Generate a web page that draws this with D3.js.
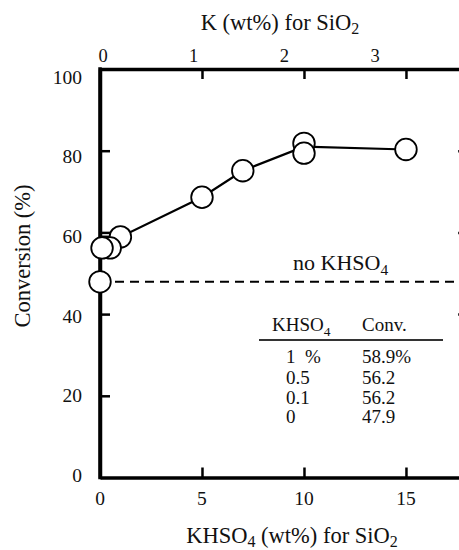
<!DOCTYPE html>
<html>
<head>
<meta charset="utf-8">
<script src="https://cdn.jsdelivr.net/npm/d3@7"></script>
<style>
  html, body { margin: 0; padding: 0; background: #fff; }
  svg { display: block; }
</style>
</head>
<body>
<div id="chart"></div>
<script>
// ---- data ----
const khso4 = [15, 10, 10, 7, 5, 1, 0.5, 0.1, 0];            // KHSO4 wt% (draw order)
const conversion = [80.3, 81.8, 79.4, 75.1, 68.6, 58.9, 56.2, 56.2, 47.9];
const lineX = [0, 1, 5, 7, 10, 15];                           // drawn trend line
const lineY = [59.0, 58.9, 68.6, 75.1, 81.0, 80.3];
const noAdditive = 47.9;                                      // dashed baseline
const xTicks = [0, 5, 10, 15];
const yTicks = [0, 20, 40, 60, 80, 100];
const kTicks = [0, 1, 2, 3];
const rightTicks = [40, 60, 80];
const tableHead = ["KHSO", "Conv."];
const tableCol1 = ["1  %", "0.5", "0.1", "0"];
const tableCol2 = ["58.9%", "56.2", "56.2", "47.9"];

const W = 459, H = 550;
const FONT = "Liberation Serif";
const svg = d3.select("#chart").append("svg").attr("width", W).attr("height", H)
  .attr("font-family", FONT);

const x = d3.scaleLinear().domain([0, 18.1]).range([100, 469.2]);
const y = d3.scaleLinear().domain([0, 100]).range([477.5, 69]);
const yLab = d3.scaleLinear().domain([0, 100]).range([475, 77]);
const kLab = d3.scaleLinear().domain([0, 3]).range([103, 375]);

const axisW = 3.5, tickW = 2.5;

function styleAxis(g) {
  g.attr("font-family", null);
  g.select(".domain").attr("stroke", "#000").attr("stroke-width", axisW);
  g.selectAll(".tick line").attr("stroke", "#000").attr("stroke-width", tickW);
  g.selectAll(".tick text").remove();
}

svg.append("g").attr("transform", `translate(${x(0)},0)`)
  .call(d3.axisRight(y).tickValues(yTicks.slice(1, -1)).tickSize(10).tickSizeOuter(0))
  .call(styleAxis);

svg.append("g").attr("transform", `translate(${x.range()[1]},0)`)
  .call(d3.axisLeft(y).tickValues(rightTicks).tickSize(11).tickSizeOuter(0))
  .call(styleAxis);

svg.append("g").attr("transform", `translate(0,${y(0)})`)
  .call(d3.axisTop(x).tickValues(xTicks.slice(1)).tickSize(10).tickSizeOuter(0))
  .call(styleAxis);

svg.append("g").attr("transform", `translate(0,${y(100)})`)
  .call(d3.axisBottom(x).tickValues(xTicks.slice(1)).tickSize(10).tickSizeOuter(0))
  .call(styleAxis);

svg.append("path")
  .attr("d", `M${x(0)},${y(100)}L${x(0)},${y(0)}`)
  .attr("stroke", "#000").attr("stroke-width", axisW).attr("stroke-linecap", "square");

const T = sel => sel.attr("fill", "#111");

svg.append("g").call(T).selectAll("text").data(yTicks).join("text")
  .attr("x", 82).attr("y", d => yLab(d)).attr("dy", "0.35em")
  .attr("text-anchor", "end").attr("font-size", 19.5).text(d => d);

svg.append("g").call(T).selectAll("text").data(xTicks).join("text")
  .attr("x", d => x(d)).attr("y", 498).attr("dy", "0.35em")
  .attr("text-anchor", "middle").attr("font-size", 19.5).text(d => d);

svg.append("g").call(T).selectAll("text").data(kTicks).join("text")
  .attr("x", d => kLab(d)).attr("y", 56).attr("dy", "0.35em")
  .attr("text-anchor", "middle").attr("font-size", 18.5).text(d => d);

const topTitle = svg.append("text").call(T).attr("x", 280).attr("y", 30)
  .attr("text-anchor", "middle").attr("font-size", 22.5);
topTitle.append("tspan").text("K (wt%) for SiO");
topTitle.append("tspan").attr("dy", 4).attr("font-size", 16).text("2");

const botTitle = svg.append("text").call(T).attr("x", 292).attr("y", 543)
  .attr("text-anchor", "middle").attr("font-size", 22.5);
botTitle.append("tspan").text("KHSO");
botTitle.append("tspan").attr("dy", 4).attr("font-size", 16).text("4");
botTitle.append("tspan").attr("dy", -4).text(" (wt%) for SiO");
botTitle.append("tspan").attr("dy", 4).attr("font-size", 16).text("2");

svg.append("text").call(T).attr("transform", "translate(22,256) rotate(-90)")
  .attr("text-anchor", "middle").attr("dy", "0.35em")
  .attr("font-size", 22.5).text("Conversion (%)");

svg.append("line")
  .attr("x1", x(0)).attr("x2", x.range()[1])
  .attr("y1", y(noAdditive)).attr("y2", y(noAdditive))
  .attr("stroke", "#000").attr("stroke-width", 2).attr("stroke-dasharray", "9,6");

const noLbl = svg.append("text").call(T).attr("x", 293).attr("y", 270).attr("font-size", 22);
noLbl.append("tspan").text("no KHSO");
noLbl.append("tspan").attr("dy", 5).attr("font-size", 15.5).text("4");

const lineData = lineX.map((d, i) => [d, lineY[i]]);
svg.append("path").datum(lineData)
  .attr("d", d3.line().x(d => x(d[0])).y(d => y(d[1])))
  .attr("fill", "none").attr("stroke", "#000").attr("stroke-width", 2.2);

const pts = khso4.map((d, i) => [d, conversion[i]]);
svg.append("g").selectAll("circle").data(pts).join("circle")
  .attr("cx", d => x(d[0])).attr("cy", d => y(d[1])).attr("r", 10.8)
  .attr("fill", "#fff").attr("stroke", "#000").attr("stroke-width", 1.8);

const tbl = svg.append("g").call(T).attr("font-size", 19);
const h1 = tbl.append("text").attr("x", 272).attr("y", 331);
h1.append("tspan").text(tableHead[0]);
h1.append("tspan").attr("dy", 5).attr("font-size", 13.5).text("4");
tbl.append("text").attr("x", 362).attr("y", 331).text(tableHead[1]);
tbl.append("line").attr("x1", 259).attr("x2", 443).attr("y1", 340).attr("y2", 340)
  .attr("stroke", "#333").attr("stroke-width", 2);
const rowY = [363, 383.5, 403.5, 422.5];
tbl.selectAll("text.c1").data(tableCol1).join("text").attr("class", "c1")
  .attr("x", 286).attr("y", (d, i) => rowY[i]).style("white-space", "pre").text(d => d);
tbl.selectAll("text.c2").data(tableCol2).join("text").attr("class", "c2")
  .attr("x", 362).attr("y", (d, i) => rowY[i]).text(d => d);
</script>
</body>
</html>
